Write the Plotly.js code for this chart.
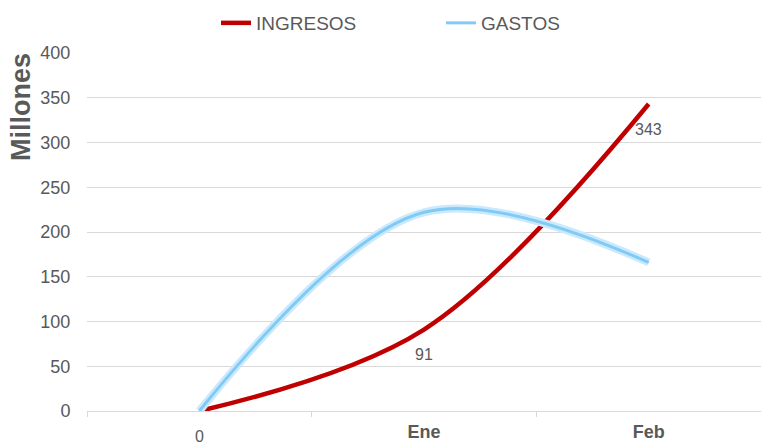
<!DOCTYPE html>
<html>
<head>
<meta charset="utf-8">
<script src="https://cdn.plot.ly/plotly-3.0.1.min.js"></script>
<style>html,body{margin:0;padding:0;background:#fff;}#chart{width:761px;height:447px;}</style>
</head>
<body>
<div id="chart"></div>
<script>
var categories = [' ', 'Ene', 'Feb'];
var ingresos = [0, 91, 343];
var gastos = [0, 222, 166];
var yTicks = [0, 50, 100, 150, 200, 250, 300, 350, 400];
var seriesNames = ['INGRESOS', 'GASTOS'];
var yTitle = 'Millones';

var FONT = 'Arial, "Liberation Sans", sans-serif';
var GRAY = '#595959';

var traces = [
  {x: categories, y: ingresos, name: seriesNames[0], type: 'scatter', mode: 'lines',
   line: {color: '#C00000', width: 4.5, shape: 'spline'}},
  {x: categories, y: gastos, name: seriesNames[1], type: 'scatter', mode: 'lines', showlegend: false,
   hoverinfo: 'skip', line: {color: '#cbe9fc', width: 8, shape: 'spline'}},
  {x: categories, y: gastos, name: seriesNames[1], type: 'scatter', mode: 'lines',
   line: {color: '#80cbf6', width: 3, shape: 'spline'}}
];

var annotations = ingresos.map(function (v, i) {
  return {x: categories[i], y: v, xref: 'x', yref: 'y', text: String(v), showarrow: false,
    yshift: -25, font: {family: FONT, size: 16, color: GRAY}};
});
annotations.push({xref: 'paper', yref: 'paper', x: (21 - 87) / 674, y: (411 - 107) / 358,
  xanchor: 'center', yanchor: 'middle', text: '<b>' + yTitle + '</b>', textangle: -90, showarrow: false,
  font: {family: FONT, size: 27, color: GRAY}});

var layout = {
  width: 761, height: 447,
  margin: {l: 87, r: 0, t: 53, b: 36, autoexpand: false},
  paper_bgcolor: '#fff', plot_bgcolor: '#fff',
  showlegend: true,
  legend: {orientation: 'h', x: (216 - 87) / 674, xanchor: 'left', y: (411 - 4) / 358, yanchor: 'top',
    entrywidth: 180, entrywidthmode: 'pixels',
    font: {family: FONT, size: 19, color: GRAY}, bgcolor: 'rgba(0,0,0,0)'},
  xaxis: {type: 'category', range: [-0.5, 2.5], tickson: 'boundaries', ticks: 'outside', ticklen: 5,
    tickcolor: '#d9d9d9', showgrid: false, showline: true, linecolor: '#d9d9d9', linewidth: 1,
    zeroline: false, fixedrange: true, automargin: false, ticklabelstandoff: 4,
    tickfont: {family: FONT, size: 18, color: GRAY, weight: 'bold'}},
  yaxis: {range: [0, 400], tickvals: yTicks, ticktext: yTicks.map(String), showgrid: true,
    gridcolor: '#d9d9d9', gridwidth: 1, zeroline: false, showline: false, automargin: false,
    ticks: 'outside', ticklen: 12, tickcolor: 'rgba(0,0,0,0)',
    tickfont: {family: FONT, size: 18, color: GRAY}},
  annotations: annotations
};

Plotly.newPlot('chart', traces, layout, {displayModeBar: false, staticPlot: true});
</script>
</body>
</html>
